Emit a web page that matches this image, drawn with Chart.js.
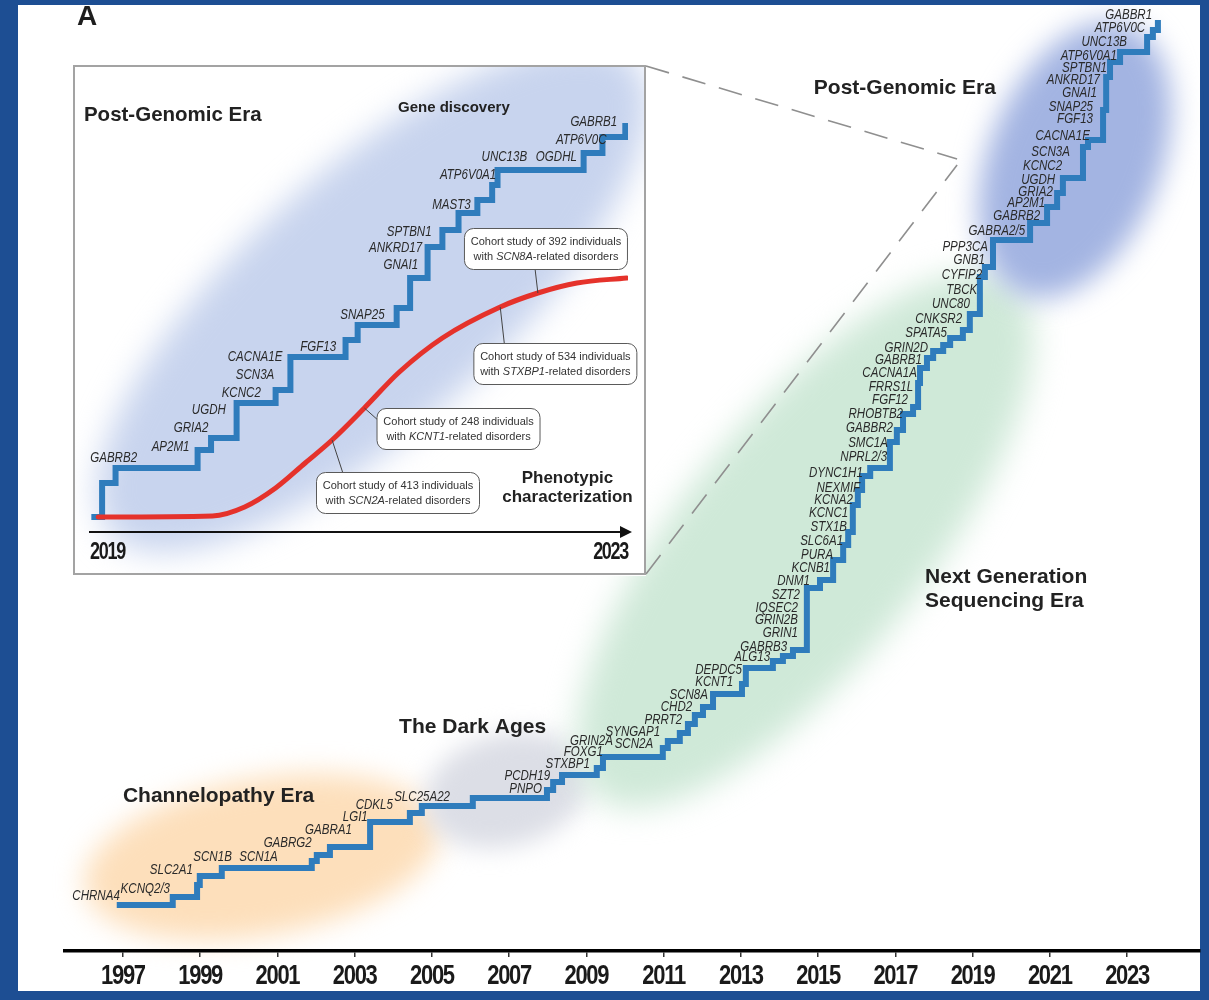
<!DOCTYPE html>
<html>
<head>
<meta charset="utf-8">
<script src="https://cdn.jsdelivr.net/npm/chart.js@4.4.1/dist/chart.umd.min.js"></script>
<style>
  html, body { margin: 0; padding: 0; background: #1d4e93; }
  #wrap { position: relative; width: 1209px; height: 1000px; overflow: hidden; }
  #main { position: absolute; left: 0; top: 0; }
  #inset { position: absolute; left: 73px; top: 65px; }
</style>
</head>
<body>
<div id="wrap">
  <canvas id="main" width="1209" height="1000"></canvas>
  <canvas id="inset" width="573" height="511"></canvas>
</div>
<script>
// ---------------------------------------------------------------
// Epilepsy gene discovery timeline, 1996–2024
// ---------------------------------------------------------------

// Main staircase: year of each rise and the cumulative level reached
const stepYears = [1996.84, 1998.29, 1998.92, 1998.99, 1999.56, 2001.89, 2002.02, 2002.36, 2003.40, 2004.43,
  2004.74, 2006.06, 2007.98, 2008.14, 2008.37, 2009.27, 2009.43, 2010.98, 2011.11, 2011.42,
  2011.63, 2011.81, 2012.02, 2012.28, 2013.03, 2013.13, 2013.83, 2014.09, 2014.35, 2014.71,
  2015.05, 2015.39, 2015.65, 2015.78, 2015.90, 2016.03, 2016.14, 2016.35, 2016.86, 2017.04,
  2017.20, 2017.46, 2017.59, 2017.64, 2017.82, 2017.98, 2018.24, 2018.42, 2018.75, 2018.93,
  2019.19, 2019.32, 2019.53, 2020.49, 2020.93, 2021.19, 2021.34, 2021.86, 2021.99, 2022.38,
  2022.46, 2022.56, 2022.82, 2023.52, 2023.67, 2023.80];
const stepLevels = [4.6, 5.4, 6.6, 7.5, 8.3, 9.0, 9.6, 10.4, 12.9, 13.8,
  14.5, 15.3, 16.1, 16.9, 17.6, 18.3, 19.4, 20.3, 21.0, 21.8,
  22.7, 23.6, 24.4, 25.7, 26.7, 28.3, 29.0, 29.5, 30.1, 36.3,
  37.1, 39.1, 40.6, 41.9, 44.6, 46.1, 47.5, 48.3, 50.9, 52.1,
  53.7, 54.4, 56.8, 58.3, 59.3, 60.0, 60.6, 61.3, 62.1, 63.7,
  67.4, 68.4, 71.1, 72.8, 74.4, 75.8, 77.3, 80.4, 81.1, 84.1,
  87.4, 88.9, 89.9, 91.4, 92.1, 93.1];

// Genes named along the staircase (year reported, level on the staircase)
const geneNames = ['CHRNA4', 'KCNQ2/3', 'SLC2A1', 'SCN1B', 'SCN1A', 'GABRG2', 'GABRA1', 'LGI1', 'CDKL5', 'SLC25A22',
  'PNPO', 'PCDH19', 'STXBP1', 'FOXG1', 'GRIN2A', 'SCN2A', 'SYNGAP1', 'PRRT2', 'CHD2', 'SCN8A',
  'KCNT1', 'DEPDC5', 'ALG13', 'GABRB3', 'GRIN1', 'GRIN2B', 'IQSEC2', 'SZT2', 'DNM1', 'KCNB1',
  'PURA', 'SLC6A1', 'STX1B', 'KCNC1', 'KCNA2', 'NEXMIF', 'DYNC1H1', 'NPRL2/3', 'SMC1A', 'GABBR2',
  'RHOBTB2', 'FGF12', 'FRRS1L', 'CACNA1A', 'GABRB1', 'GRIN2D', 'SPATA5', 'CNKSR2', 'UNC80', 'TBCK',
  'CYFIP2', 'GNB1', 'PPP3CA', 'GABRA2/5', 'GABRB2', 'AP2M1', 'GRIA2', 'UGDH', 'KCNC2', 'SCN3A',
  'CACNA1E', 'FGF13', 'SNAP25', 'GNAI1', 'ANKRD17', 'SPTBN1', 'ATP6V0A1', 'UNC13B', 'ATP6V0C', 'GABBR1'];
const geneYears = [1996.92, 1998.22, 1998.81, 1999.82, 2001.01, 2001.89, 2002.93, 2003.34, 2003.99, 2005.47,
  2007.85, 2008.06, 2009.09, 2009.43, 2009.69, 2010.73, 2010.91, 2011.48, 2011.74, 2012.15,
  2012.80, 2013.03, 2013.76, 2014.20, 2014.48, 2014.48, 2014.48, 2014.53, 2014.79, 2015.31,
  2015.39, 2015.65, 2015.75, 2015.78, 2015.90, 2016.09, 2016.16, 2016.79, 2016.81, 2016.94,
  2017.20, 2017.33, 2017.46, 2017.56, 2017.69, 2017.85, 2018.34, 2018.73, 2018.93, 2019.12,
  2019.25, 2019.32, 2019.40, 2020.36, 2020.75, 2020.88, 2021.08, 2021.14, 2021.32, 2021.52,
  2022.04, 2022.12, 2022.12, 2022.22, 2022.30, 2022.48, 2022.74, 2023.00, 2023.47, 2023.65];
const geneLevels = [5.5, 6.2, 8.1, 9.4, 9.4, 10.8, 12.1, 13.4, 14.6, 15.4,
  16.2, 17.5, 18.7, 19.9, 21.0, 20.7, 21.9, 23.1, 24.4, 25.6,
  26.9, 28.1, 29.4, 30.4, 31.8, 33.1, 34.3, 35.6, 37.0, 38.3,
  39.6, 41.0, 42.4, 43.8, 45.1, 46.3, 47.8, 49.4, 50.8, 52.3,
  53.7, 55.1, 56.4, 57.8, 59.1, 60.3, 61.8, 63.2, 64.7, 66.1,
  67.6, 69.1, 70.4, 72.0, 73.5, 74.8, 75.9, 77.1, 78.5, 79.9,
  81.5, 83.2, 84.4, 85.8, 87.1, 88.3, 89.5, 90.9, 92.3, 93.6];

// Axis tick years
const yearTicks = [1997, 1999, 2001, 2003, 2005, 2007, 2009, 2011, 2013, 2015, 2017, 2019, 2021, 2023];

// Inset 2019–2023: gene discovery staircase
const insetStepYears = [2019.01, 2019.09, 2019.19, 2019.80, 2019.90, 2020.09, 2020.38, 2020.49, 2020.90, 2020.99,
  2021.28, 2021.38, 2021.51, 2021.62, 2021.74, 2021.88, 2021.99, 2022.03, 2022.67, 2022.81, 2022.98];
const insetStepLevels = [1.5, 4.9, 6.4, 8.2, 9.4, 12.9, 14.2, 17.5, 19.2, 20.7,
  22.4, 25.4, 28.5, 30.2, 31.9, 33.2, 34.7, 36.2, 37.9, 39.5, 40.9];
const insetGenes = ['GABRB2', 'AP2M1', 'GRIA2', 'UGDH', 'KCNC2', 'SCN3A', 'CACNA1E', 'FGF13', 'SNAP25', 'GNAI1',
  'ANKRD17', 'SPTBN1', 'MAST3', 'ATP6V0A1', 'UNC13B', 'OGDHL', 'ATP6V0C', 'GABRB1'];
const insetGeneYears = [2019.35, 2019.74, 2019.88, 2020.01, 2020.27, 2020.37, 2020.43, 2020.83, 2021.19, 2021.44,
  2021.47, 2021.54, 2021.83, 2022.02, 2022.25, 2022.62, 2022.84, 2022.92];
const insetGeneLevels = [7.4, 8.5, 10.4, 12.2, 13.9, 15.7, 17.5, 18.5, 21.7, 26.7,
  28.4, 30.0, 32.7, 35.7, 37.5, 37.5, 39.2, 41.0];
const insetTicks = [2019, 2023];

// Inset: phenotypic characterization curve
const phenoYears = [2019.06, 2019.91, 2020.15, 2020.38, 2020.60, 2020.80, 2021.04, 2021.30, 2021.62, 2022.05, 2022.33, 2022.62, 2022.99];
const phenoLevels = [1.5, 1.6, 2.5, 4.4, 6.9, 9.2, 12.4, 16.0, 19.4, 22.5, 23.9, 24.9, 25.4];

// Cohort studies marked on the curve
const cohortSizes = [413, 248, 534, 392];
const cohortGenes = ['SCN2A', 'KCNT1', 'STXBP1', 'SCN8A'];
const cohortYears = [2020.80, 2021.04, 2022.05, 2022.33];
const cohortLevels = [9.2, 12.4, 22.5, 23.9];

// ---------------------------------------------------------------
// Layout and styling
// ---------------------------------------------------------------
const SANS = "'Liberation Sans', Arial, Helvetica, sans-serif";
const FRAME = '#1d4e93';
const STEP_BLUE = '#2f7cbc';
const CURVE_RED = '#e5322b';
const TEXT = '#222222';

// soft coloured halos behind each era (centre in data units, radii in px)
const eraHalos = [
  { year: 2000.60, level: 9.4, rx: 180, ry: 78, rot: -10, color: '#fddfbb', blur: 14 },
  { year: 2006.94, level: 16.1, rx: 84, ry: 56, rot: -15, color: '#dcdee6', blur: 12 },
  { year: 2014.66, level: 41.1, rx: 330, ry: 122, rot: -51, color: '#cfe9d8', blur: 16 },
  { year: 2021.65, level: 79.1, rx: 145, ry: 86, rot: -68, color: '#a3b4e2', blur: 14 }
];
const eraTitles = [
  { lines: ['Channelopathy Era'], year: 1997.00, level: 15.5 },
  { lines: ['The Dark Ages'], year: 2004.15, level: 22.4 },
  { lines: ['Next Generation', 'Sequencing Era'], year: 2017.77, level: 37.4 },
  { lines: ['Post-Genomic Era'], year: 2014.89, level: 86.3 }
];
// point the zoom wedge of the inset converges on
const wedgeTip = { year: 2018.60, level: 78.9 };

// inset decorations (data units of the inset scales)
const insetHalo = { year: 2021.10, level: 23.4, rx: 352, ry: 128, rot: -42, color: '#c8d4ee', blur: 16 };
const insetTitles = [
  { text: 'Post-Genomic Era', year: 2018.955, level: 41.7, size: 20.5, align: 'left' },
  { text: 'Gene discovery', year: 2021.29, level: 42.4, size: 15, align: 'left' },
  { text: 'Phenotypic', year: 2022.55, level: 5.4, size: 17, align: 'center' },
  { text: 'characterization', year: 2022.55, level: 3.5, size: 17, align: 'center' }
];
const calloutBoxes = [
  { year: 2021.29, level: 3.9, leaveYear: 2020.88, leaveLevel: 5.9 },
  { year: 2021.74, level: 10.3, leaveYear: 2021.14, leaveLevel: 11.2 },
  { year: 2022.46, level: 16.8, leaveYear: 2022.08, leaveLevel: 18.9 },
  { year: 2022.39, level: 28.3, leaveYear: 2022.31, leaveLevel: 26.2 }
];

function halo(ctx, cx, cy, h) {
  ctx.save();
  ctx.filter = `blur(${h.blur}px)`;
  ctx.fillStyle = h.color;
  ctx.beginPath();
  ctx.ellipse(cx, cy, h.rx, h.ry, h.rot * Math.PI / 180, 0, Math.PI * 2);
  ctx.fill();
  ctx.restore();
}

function roundedBox(ctx, x, y, w, h, r) {
  ctx.beginPath();
  ctx.moveTo(x + r, y);
  ctx.lineTo(x + w - r, y);
  ctx.arcTo(x + w, y, x + w, y + r, r);
  ctx.lineTo(x + w, y + h - r);
  ctx.arcTo(x + w, y + h, x + w - r, y + h, r);
  ctx.lineTo(x + r, y + h);
  ctx.arcTo(x, y + h, x, y + h - r, r);
  ctx.lineTo(x, y + r);
  ctx.arcTo(x, y, x + r, y, r);
  ctx.closePath();
}

// condensed italic gene names, right-aligned on their anchor
function geneLabels(ctx, xs, ys, names, years, levels, size) {
  ctx.save();
  ctx.font = `italic ${size}px ${SANS}`;
  ctx.fillStyle = '#2a2a2a';
  ctx.textAlign = 'right';
  ctx.textBaseline = 'middle';
  names.forEach((g, i) => {
    ctx.save();
    ctx.translate(xs.getPixelForValue(years[i]), ys.getPixelForValue(levels[i]));
    ctx.scale(0.77, 1);
    ctx.fillText(g, 0, 0);
    ctx.restore();
  });
  ctx.restore();
}

// draw a scale's tick labels narrow and tall (condensed display numerals)
function condensedLabels(stretch, spacing) {
  return s => {
    if (s._condensed) return;
    s._condensed = true;
    const orig = s.drawLabels.bind(s);
    s.drawLabels = function (area) {
      const o = this.options;
      const tl = o.grid.drawTicks ? o.grid.tickLength : 0;
      const cy = this.top + tl + o.ticks.padding + o.ticks.font.size * 1.2 / 2;
      const ctx = this.ctx;
      ctx.save();
      ctx.translate(0, cy);
      ctx.scale(1, stretch);
      ctx.translate(0, -cy);
      ctx.letterSpacing = spacing;
      orig(area);
      ctx.restore();
    };
  };
}

// ---------------------------------------------------------------
// Main timeline
// ---------------------------------------------------------------
const mainDecor = {
  id: 'mainDecor',
  beforeDraw(chart) {
    const { ctx, width, height } = chart;
    const { x, y } = chart.scales;
    ctx.save();
    ctx.fillStyle = FRAME;
    ctx.fillRect(0, 0, width, height);
    ctx.fillStyle = '#ffffff';
    ctx.fillRect(18, 5, 1182, 986);
    eraHalos.forEach(h => halo(ctx, x.getPixelForValue(h.year), y.getPixelForValue(h.level), h));
    // panel letter, cut by the frame
    ctx.fillStyle = '#1e1e1e';
    ctx.font = `bold 28px ${SANS}`;
    ctx.textAlign = 'left';
    ctx.textBaseline = 'alphabetic';
    ctx.fillText('A', 77, 25);
    ctx.fillStyle = FRAME;
    ctx.fillRect(0, 0, width, 5);
    ctx.restore();
  },
  afterDatasetsDraw(chart) {
    const { ctx } = chart;
    const { x, y } = chart.scales;
    geneLabels(ctx, x, y, geneNames, geneYears, geneLevels, 15);

    ctx.save();
    ctx.fillStyle = TEXT;
    ctx.font = `bold 21px ${SANS}`;
    ctx.textAlign = 'left';
    ctx.textBaseline = 'middle';
    eraTitles.forEach(t => t.lines.forEach((ln, k) =>
      ctx.fillText(ln, x.getPixelForValue(t.year), y.getPixelForValue(t.level) + k * 24)));

    // dashed wedge from the inset corners to the post-genomic era
    const inset = document.getElementById('inset');
    const right = inset.offsetLeft + inset.width;
    const top = inset.offsetTop + 1;
    const bottom = inset.offsetTop + inset.height - 2;
    const tx = x.getPixelForValue(wedgeTip.year), ty = y.getPixelForValue(wedgeTip.level);
    ctx.strokeStyle = '#8f8f8f';
    ctx.lineWidth = 1.6;
    ctx.setLineDash([24, 14]);
    ctx.beginPath();
    ctx.moveTo(right, top); ctx.lineTo(tx, ty - 3);
    ctx.moveTo(right, bottom); ctx.lineTo(tx, ty + 3);
    ctx.stroke();
    ctx.restore();
  }
};

new Chart(document.getElementById('main'), {
  type: 'line',
  data: {
    datasets: [{
      data: stepYears.map((v, i) => ({ x: v, y: stepLevels[i] })),
      stepped: 'before',
      borderColor: STEP_BLUE,
      borderWidth: 6,
      borderCapStyle: 'butt',
      borderJoinStyle: 'miter',
      pointRadius: 0,
      fill: false
    }]
  },
  options: {
    responsive: false,
    animation: false,
    devicePixelRatio: 1,
    layout: { padding: { left: 65, right: 9, top: 0, bottom: 0 } },
    plugins: { legend: { display: false }, tooltip: { enabled: false } },
    scales: {
      x: {
        type: 'linear',
        min: 1995.5,
        max: 2024.89,
        afterBuildTicks: s => { s.ticks = yearTicks.map(v => ({ value: v })); },
        afterFit: s => { s.height = 49; },
        afterUpdate: condensedLabels(1.27, '-1.3px'),
        grid: { display: true, drawOnChartArea: false, drawTicks: true, tickLength: 6, color: '#333', lineWidth: 1.5 },
        border: { display: true, color: '#000', width: 3.5 },
        ticks: {
          padding: 6,
          color: '#1a1a1a',
          autoSkip: false,
          maxRotation: 0,
          font: { family: SANS, size: 22, weight: 'bold' },
          callback: v => String(v)
        }
      },
      y: { type: 'linear', min: 0, max: 95.1, display: false }
    }
  },
  plugins: [mainDecor]
});

// ---------------------------------------------------------------
// Inset: 2019–2023 gene discovery vs phenotypic characterization
// ---------------------------------------------------------------
const insetDecor = {
  id: 'insetDecor',
  beforeDraw(chart) {
    const { ctx, width, height } = chart;
    const { x, y } = chart.scales;
    ctx.save();
    ctx.fillStyle = '#ffffff';
    ctx.fillRect(0, 0, width, height);
    ctx.beginPath();
    ctx.rect(2, 2, width - 4, height - 4);
    ctx.clip();
    halo(ctx, x.getPixelForValue(insetHalo.year), y.getPixelForValue(insetHalo.level), insetHalo);
    ctx.restore();
    ctx.save();
    ctx.strokeStyle = '#a3a3a3';
    ctx.lineWidth = 2;
    ctx.strokeRect(1, 1, width - 2, height - 3);
    ctx.restore();
  },
  afterDatasetsDraw(chart) {
    const { ctx, chartArea } = chart;
    const { x, y } = chart.scales;
    geneLabels(ctx, x, y, insetGenes, insetGeneYears, insetGeneLevels, 15);

    ctx.save();
    ctx.fillStyle = TEXT;
    ctx.textBaseline = 'middle';
    insetTitles.forEach(t => {
      ctx.font = `bold ${t.size}px ${SANS}`;
      ctx.textAlign = t.align;
      ctx.fillText(t.text, x.getPixelForValue(t.year), y.getPixelForValue(t.level));
    });

    // arrow head on the time axis
    const ay = chartArea.bottom;
    const ax = chartArea.right;
    ctx.fillStyle = '#111';
    ctx.beginPath();
    ctx.moveTo(ax + 4, ay);
    ctx.lineTo(ax - 8, ay - 6);
    ctx.lineTo(ax - 8, ay + 6);
    ctx.closePath();
    ctx.fill();

    // cohort call-outs
    cohortSizes.forEach((n, i) => {
      const b = calloutBoxes[i];
      const cx = x.getPixelForValue(b.year), cy = y.getPixelForValue(b.level);
      ctx.strokeStyle = '#444';
      ctx.lineWidth = 1;
      ctx.beginPath();
      ctx.moveTo(x.getPixelForValue(cohortYears[i]), y.getPixelForValue(cohortLevels[i]));
      ctx.lineTo(x.getPixelForValue(b.leaveYear), y.getPixelForValue(b.leaveLevel));
      ctx.stroke();

      const w = 163, h = 41;
      roundedBox(ctx, cx - w / 2, cy - h / 2, w, h, 9);
      ctx.fillStyle = '#ffffff';
      ctx.fill();
      ctx.strokeStyle = '#5a5a5a';
      ctx.stroke();

      ctx.fillStyle = '#333';
      ctx.textAlign = 'left';
      ctx.textBaseline = 'middle';
      const reg = `11px ${SANS}`, ital = `italic 11px ${SANS}`;
      const l1 = `Cohort study of ${n} individuals`;
      ctx.font = reg;
      const w1 = ctx.measureText(l1).width;
      ctx.fillText(l1, cx - w1 / 2, cy - 7);
      const pre = 'with ', post = '-related disorders';
      const wp = ctx.measureText(pre).width, wq = ctx.measureText(post).width;
      ctx.font = ital;
      const wg = ctx.measureText(cohortGenes[i]).width;
      let sx = cx - (wp + wg + wq) / 2;
      ctx.font = reg; ctx.fillText(pre, sx, cy + 8); sx += wp;
      ctx.font = ital; ctx.fillText(cohortGenes[i], sx, cy + 8); sx += wg;
      ctx.font = reg; ctx.fillText(post, sx, cy + 8);
    });
    ctx.restore();
  }
};

new Chart(document.getElementById('inset'), {
  type: 'line',
  data: {
    datasets: [
      {
        data: phenoYears.map((v, i) => ({ x: v, y: phenoLevels[i] })),
        borderColor: CURVE_RED,
        borderWidth: 5,
        cubicInterpolationMode: 'monotone',
        borderCapStyle: 'round',
        pointRadius: 0,
        fill: false
      },
      {
        data: insetStepYears.map((v, i) => ({ x: v, y: insetStepLevels[i] })),
        stepped: 'before',
        borderColor: STEP_BLUE,
        borderWidth: 6,
        borderCapStyle: 'butt',
        borderJoinStyle: 'miter',
        pointRadius: 0,
        fill: false
      }
    ]
  },
  options: {
    responsive: false,
    animation: false,
    devicePixelRatio: 1,
    layout: { padding: { left: 17, right: 18, top: 0, bottom: 0 } },
    plugins: { legend: { display: false }, tooltip: { enabled: false } },
    scales: {
      x: {
        type: 'linear',
        min: 2019,
        max: 2023,
        afterBuildTicks: s => { s.ticks = insetTicks.map(v => ({ value: v })); },
        afterFit: s => { s.height = 44; },
        afterUpdate: condensedLabels(1.3, '-1.3px'),
        grid: { display: false, drawTicks: false },
        border: { display: true, color: '#111', width: 2 },
        ticks: {
          align: 'inner',
          padding: 10,
          color: '#1a1a1a',
          autoSkip: false,
          maxRotation: 0,
          font: { family: SANS, size: 18, weight: 'bold' },
          callback: v => String(v)
        }
      },
      y: { type: 'linear', min: 0, max: 46.7, display: false }
    }
  },
  plugins: [insetDecor]
});
</script>
</body>
</html>
